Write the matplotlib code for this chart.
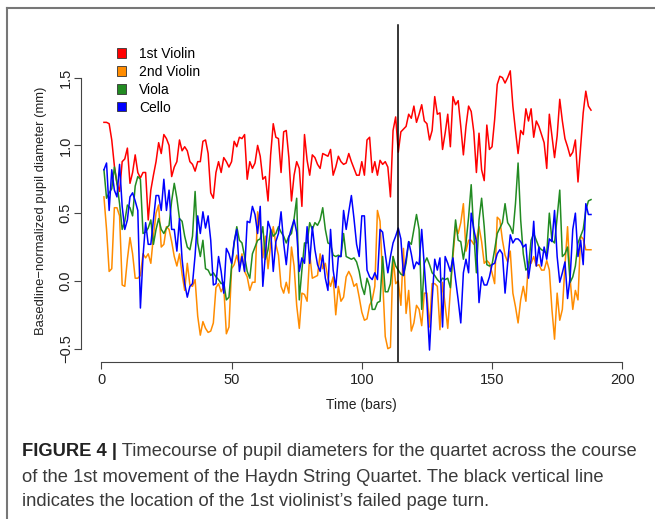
import numpy as np
import matplotlib.pyplot as plt
from matplotlib.patches import Patch
from matplotlib.lines import Line2D

plt.rcParams['font.family'] = ['Liberation Sans', 'DejaVu Sans']

# pupil diameter per bar (bars 1..188)
violin1 = [1.17, 1.17, 1.16, 1.04, 0.85, 0.72, 0.66, 0.88, 0.90, 0.98,
           0.72, 0.80, 0.93, 0.80, 0.76, 0.80, 0.80, 0.45, 0.67, 0.78,
           0.88, 1.02, 0.94, 1.08, 1.05, 1.00, 0.77, 0.84, 0.88, 1.04,
           0.96, 0.99, 0.96, 0.88, 0.86, 0.81, 0.88, 0.88, 1.03, 1.04,
           0.94, 0.65, 0.61, 0.80, 0.88, 0.80, 0.91, 0.88, 0.84, 0.88,
           1.03, 0.99, 1.06, 1.05, 1.08, 0.75, 0.88, 0.83, 0.87, 1.00,
           0.92, 0.75, 0.77, 0.59, 0.93, 1.16, 1.06, 1.05, 0.80, 1.10,
           1.11, 0.91, 0.59, 0.78, 0.88, 0.83, 0.55, 1.08, 0.89, 0.78,
           0.93, 0.91, 0.86, 0.83, 0.94, 0.93, 0.92, 0.97, 0.78, 0.84,
           0.92, 0.88, 0.86, 0.87, 0.94, 0.88, 0.83, 0.78, 0.78, 0.88,
           0.78, 1.04, 1.06, 0.80, 0.88, 0.78, 0.89, 0.86, 0.88, 0.84,
           0.62, 1.11, 1.21, 0.95, 1.10, 1.12, 1.14, 1.23, 1.20, 1.29,
           1.17, 1.23, 1.30, 1.18, 1.16, 1.04, 1.11, 1.36, 1.23, 1.24,
           0.97, 1.09, 1.23, 0.99, 1.36, 1.30, 1.33, 1.14, 0.93, 1.14,
           1.29, 1.25, 1.10, 0.80, 1.09, 0.82, 0.74, 1.15, 0.97, 0.99,
           1.19, 1.45, 1.51, 1.50, 1.46, 1.50, 1.55, 1.29, 1.11, 0.94,
           1.11, 1.08, 1.27, 1.18, 1.27, 1.06, 1.18, 1.14, 1.08, 1.02,
           0.83, 1.23, 1.07, 0.91, 1.07, 1.34, 1.18, 1.05, 0.99, 0.92,
           0.95, 1.04, 0.73, 0.98, 1.24, 1.40, 1.29, 1.26]

violin2 = [0.62, 0.38, 0.07, 0.09, 0.54, 0.54, 0.48, -0.03, -0.04, 0.16,
           0.32, 0.20, 0.02, 0.02, 0.04, 0.20, 0.17, 0.20, 0.13, 0.33,
           0.50, 0.56, 0.25, 0.27, 0.40, 0.38, 0.29, 0.18, 0.11, 0.20,
           0.05, -0.07, 0.13, -0.03, -0.04, 0.01, -0.26, -0.40,
           -0.30, -0.35, -0.38, -0.37, -0.31, -0.05, -0.02, -0.08, -0.04, -0.39,
           -0.34, 0.09, 0.12, 0.19, 0.11, 0.20, 0.07, 0.03, -0.07, -0.01,
           -0.01, 0.51, 0.40, 0.17, 0.33, 0.09, 0.27, 0.40, 0.27, 0.19,
           -0.04, -0.09, -0.01, -0.09, 0.25, 0.11, -0.18,
           -0.35, -0.09, -0.10, -0.15, 0.20, 0.02, 0.03, 0.04, 0.20, 0.09,
           0.13, 0.02, -0.04, 0.03, -0.25, -0.04, -0.15, -0.12, 0.03, 0.07,
           0.03, -0.04, -0.02, -0.12, -0.23, -0.29, -0.28, -0.18, -0.14, -0.04,
           0.52, 0.44, 0.02, -0.41, -0.50, -0.49, 0.18, -0.02, 0.00, -0.18,
           0.24, -0.24, -0.07, -0.37, -0.31, -0.18, -0.21, -0.33, -0.09, -0.09,
           -0.34, -0.02, -0.02, -0.04, -0.36, -0.01, -0.18, -0.35, -0.07, 0.18,
           0.40, 0.35, 0.43, 0.57, 0.22, 0.30, 0.30, 0.27, 0.30, 0.40,
           0.29, 0.13, 0.15, 0.13, 0.06, -0.02, 0.47, 0.45,
           0.30, 0.19, 0.14, 0.22, -0.09, -0.19, -0.31, -0.14, -0.04, -0.15,
           0.14, 0.13, 0.18, 0.11, 0.12, 0.08, 0.08, 0.15, 0.08, -0.21,
           -0.43, -0.09, -0.29, -0.21, 0.11, 0.40, 0.01, -0.21, -0.07, -0.14,
           0.33, 0.31, 0.23, 0.23, 0.23]

viola = [0.82, 0.61, 0.65, 0.68, 0.84, 0.72, 0.57, 0.38, 0.44, 0.56,
         0.54, 0.48, 0.70, 0.77, 0.75, 0.35, 0.36, 0.39, 0.45, 0.27,
         0.38, 0.46, 0.38, 0.35, 0.39, 0.41, 0.59, 0.72, 0.61, 0.46,
         0.44, 0.33, 0.25, 0.23, 0.33, 0.66, 0.28, 0.18,
         0.30, 0.09, 0.08, 0.04, 0.06, 0.03, 0.01, -0.02, -0.01, -0.14,
         -0.12, 0.11, 0.28, 0.40, 0.30, 0.28, 0.18, 0.07, 0.02, 0.20,
         0.25, 0.30, 0.31, 0.40, 0.16, 0.23, 0.38, 0.33, 0.35, 0.40,
         0.36, 0.33, 0.28, 0.33, 0.35, 0.46, 0.61,
         -0.14, 0.08, 0.28, 0.28, 0.43, 0.38, 0.43, 0.41, 0.45, 0.54,
         0.38, 0.28, 0.27, 0.19, 0.18, 0.19, 0.18, 0.35, 0.18, 0.17,
         0.16, 0.17, 0.14, 0.07, -0.04, -0.10, 0.02, -0.04, -0.21, -0.21,
         -0.16, -0.15, 0.18, -0.08, -0.08, -0.02, 0.18, 0.11, 0.08, 0.05,
         0.04, 0.13, 0.29, 0.27, 0.38, 0.49, 0.38, -0.21, 0.13, 0.17,
         0.12, 0.06, 0.04, 0.01, -0.01, 0.02, 0.01, 0.02, -0.05, 0.22,
         0.45, 0.30, 0.29, 0.16, 0.28, 0.47, 0.71, 0.35, 0.06, 0.45,
         0.61, 0.40, 0.12, 0.11, 0.12, 0.23, 0.35, 0.39,
         0.43, 0.57, 0.43, 0.40, 0.35, 0.57, 0.87, 0.45, 0.20, 0.08,
         0.10, 0.30, 0.35, 0.30, 0.25, 0.23, 0.22, 0.20, 0.50, 0.30,
         0.28, 0.47, 0.67, 0.18, 0.20, 0.25, -0.01, 0.03, 0.11, 0.28,
         0.33, 0.38, 0.52, 0.59, 0.60]

cello = [0.82, 0.87, 0.52, 0.82, 0.67, 0.62, 0.86, 0.55, 0.38, 0.45,
         0.62, 0.65, 0.59, 0.52, -0.20, 0.18, 0.43, 0.27, 0.27, 0.45,
         0.63, 0.63, 0.52, 0.75, 0.52, 0.67, 0.38, 0.38, 0.22, 0.46,
         0.16, -0.02, -0.12, -0.04, -0.02, 0.19, 0.48, 0.35,
         0.51, 0.39, 0.48, 0.30, -0.03, -0.02, 0.18, 0.07, -0.09, 0.24,
         0.20, 0.13, 0.29, 0.38, 0.07, 0.18, 0.07, 0.44, 0.43, 0.55,
         0.49, 0.35, 0.55, -0.04, 0.20, 0.44, 0.38, 0.07, 0.29, 0.35,
         0.51, 0.28, 0.12, 0.32, 0.39, 0.45, 0.36,
         0.07, 0.17, 0.13, 0.40, 0.13, 0.40, 0.23, 0.12, 0.07, 0.19,
         0.02, -0.07, 0.38, 0.08, -0.05, 0.18, 0.18, 0.52, 0.38, 0.51,
         0.63, 0.46, 0.27, 0.18, 0.48, 0.48, 0.08, 0.03, 0.01, 0.06,
         0.01, 0.38, 0.36, 0.20, 0.06, 0.18, 0.28, 0.33,
         0.39, 0.31, 0.04, 0.16, 0.29, 0.20, 0.09, 0.14, 0.12, 0.38,
         0.11, -0.16, -0.51, -0.14, 0.16, 0.08, 0.17, -0.34, 0.18, 0.13,
         0.07, 0.17, 0.01, -0.14, -0.31, 0.06, 0.16, 0.06, 0.50, 0.38,
         0.29, -0.16, 0.03, -0.03, -0.03, 0.03, 0.12, 0.13, 0.20, 0.23,
         0.20, -0.09, 0.13, 0.34, 0.28, 0.31, 0.31, 0.29, 0.25, 0.27,
         0.02, 0.16, 0.44, 0.11, 0.25, 0.11, 0.25, 0.16, 0.31, 0.29,
         0.52, 0.18, -0.01, 0.06, 0.14, -0.13, 0.03, 0.38, 0.50, 0.18,
         0.30, 0.12, 0.57, 0.49, 0.49]

names = ['1st Violin', '2nd Violin', 'Viola', 'Cello']
colors = ['#ff0000', '#ff8c00', '#228b22', '#0000ff']
page_turn = 114

xticks = [0, 50, 100, 150, 200]
yticks = [-0.5, 0.0, 0.5, 1.0, 1.5]
ytick_labels = ['\u22120.5', '0.0', '0.5', '1.0', '1.5']

fig = plt.figure(figsize=(6.55, 5.19), dpi=100)
ax = fig.add_axes([80.5/655, 1 - 361.7/519, 562.6/655, 301.7/519])

for vals, col, lab in zip([violin1, violin2, viola, cello], colors, names):
    ax.plot(np.arange(1, len(vals) + 1), vals, color=col, lw=1.1, label=lab)

ax.axvline(page_turn, ymin=0, ymax=1.116, color='black', lw=1.1, clip_on=False)

ax.set_xlim(-8, 208)
ax.set_ylim(-0.596, 1.63)
for s in ['top', 'right']:
    ax.spines[s].set_visible(False)
ax.spines['left'].set_bounds(-0.5, 1.5)
ax.spines['bottom'].set_bounds(0, 200)
for s in ['left', 'bottom']:
    ax.spines[s].set_color('#444444')
    ax.spines[s].set_linewidth(0.8)

ax.set_xticks(xticks)
ax.set_yticks(yticks)
ax.set_yticklabels(ytick_labels, rotation=90, va='center')
ax.tick_params(length=5, width=0.8, color='#444444', labelcolor='#222222', labelsize=10.5)
ax.tick_params(axis='x', pad=3)
ax.tick_params(axis='y', pad=0.5)

ax.set_xlabel('Time (bars)', fontsize=10, labelpad=8, color='#222222')
ax.set_ylabel('Basedline\u2212normalized pupil diameter (mm)', fontsize=9.4,
              labelpad=8.5, color='#222222')

handles = [Patch(facecolor=c, edgecolor='#333333', lw=0.6) for c in colors]
ax.legend(handles, names, loc='upper left', bbox_to_anchor=(116.5/655, 1 - 47/519),
          bbox_transform=fig.transFigure, frameon=False, fontsize=10,
          handlelength=0.65, handleheight=0.65, handletextpad=1.0,
          labelspacing=0.28, borderpad=0, borderaxespad=0)

# frame of the figure panel
fig.add_artist(Line2D([7/655, 7/655], [0, 1 - 8/519], transform=fig.transFigure,
                      color='#777777', lw=1.5))
fig.add_artist(Line2D([7/655, 1], [1 - 8/519, 1 - 8/519], transform=fig.transFigure,
                      color='#777777', lw=1.5))

# caption
cap_size = 13.2
t1 = fig.text(22/655, 1 - 452/519, 'FIGURE 4 |', fontsize=cap_size, weight='bold',
              color='#222222', va='center')
ax.annotate(' Timecourse of pupil diameters for the quartet across the course',
            xy=(1, 0), xycoords=t1, va='bottom', ha='left',
            fontsize=cap_size, color='#3a3a3a')
fig.text(22/655, 1 - 477/519,
         'of the 1st movement of the Haydn String Quartet. The black vertical line',
         fontsize=cap_size, color='#3a3a3a', va='center')
fig.text(22/655, 1 - 501/519,
         'indicates the location of the 1st violinist\u2019s failed page turn.',
         fontsize=cap_size, color='#3a3a3a', va='center')

fig.savefig('out.png', dpi=100)
